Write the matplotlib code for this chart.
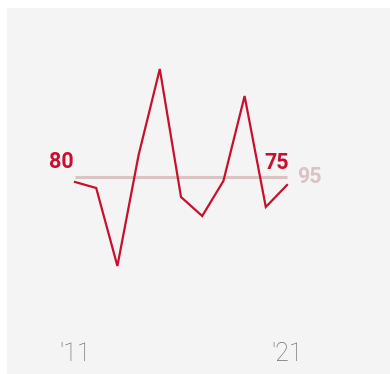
import matplotlib.pyplot as plt

# data
years = [2011, 2012, 2013, 2014, 2015, 2016, 2017, 2018, 2019, 2020, 2021]
values = [192, 186, 108, 219, 305, 177, 158, 193, 278, 167, 189]
ref_value = 197
first_label = "80"
last_label = "75"
ref_label = "95"
tick_labels = ["'11", "'21"]

red = '#c8102e'
pink = '#dcc3c3'

fig = plt.figure(figsize=(3.9, 3.74), dpi=100)
ax = fig.add_axes([7 / 390, 0, 383 / 390, 366 / 374])
ax.set_facecolor('#f4f4f4')
for s in ax.spines.values():
    s.set_visible(False)

ax.plot([years[0], years[-1]], [ref_value, ref_value], color=pink, lw=2.2, solid_capstyle='butt')
ax.plot(years, values, color=red, lw=1.6, solid_joinstyle='miter')

ax.set_xlim(2011 - 68 / 21.2, 2011 + 315 / 21.2)
ax.set_ylim(0, 366)
ax.set_xticks([])
ax.set_yticks([])

ax.annotate(first_label, (years[0], values[0]), xytext=(-1, 6.5), textcoords='offset points',
            ha='right', va='bottom', color=red, fontsize=15.5, fontweight='bold', family='Roboto')
ax.annotate(last_label, (years[-1], values[-1]), xytext=(1, 8), textcoords='offset points',
            ha='right', va='bottom', color=red, fontsize=15.5, fontweight='bold', family='Roboto')
ax.annotate(ref_label, (years[-1], ref_value), xytext=(7, 0), textcoords='offset points',
            ha='left', va='center', color=pink, fontsize=15.5, fontweight='bold', family='Roboto')

for yr, lab in zip([years[0], years[-1]], tick_labels):
    ax.text(yr, 20, lab, ha='center', va='center', color='#6e6e6e', fontsize=18,
            fontweight='light', family='Roboto')

fig.savefig('out.png', dpi=100, facecolor='white')
